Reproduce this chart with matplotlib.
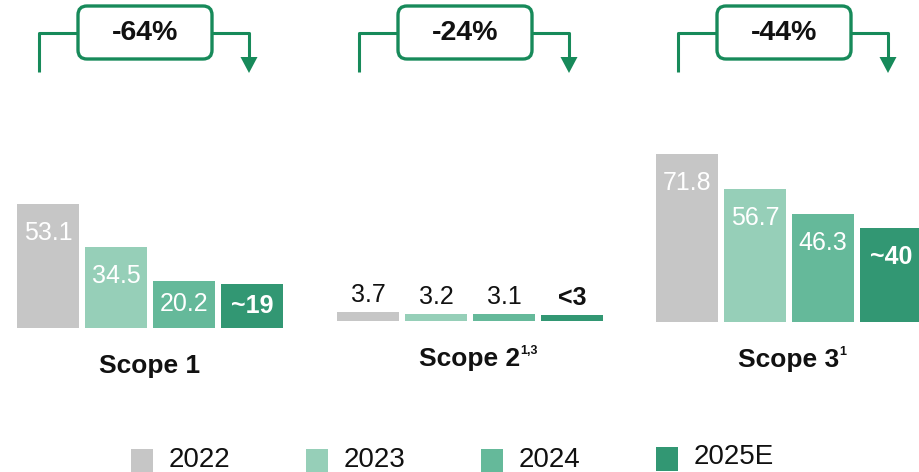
import matplotlib.pyplot as plt
from matplotlib.patches import FancyBboxPatch

plt.rcParams['font.family'] = ['Liberation Sans', 'DejaVu Sans']

years = ['2022', '2023', '2024', '2025E']
colores = ['#C6C6C6', '#96CFB8', '#65B99A', '#329773']
scopes = ['Scope 1', 'Scope 2', 'Scope 3']
supers = ['', '1,3', '1']
valores = [[53.1, 34.5, 20.2, 19.0],
           [3.7, 3.2, 3.1, 2.6],
           [71.8, 56.7, 46.3, 40.0]]
etiquetas = [['53.1', '34.5', '20.2', '~19'],
             ['3.7', '3.2', '3.1', '<3'],
             ['71.8', '56.7', '46.3', '~40']]
cambios = ['-64%', '-24%', '-44%']

verde = '#178A5A'
W, H = 920, 472
esc = 2.34                       # px por unidad
base_px = [328, 321, 322]        # linea base de cada grupo
inicio = [17, 337, 656]          # borde izquierdo de cada grupo
ancho, paso = 62, 68

fig = plt.figure(figsize=(W / 100, H / 100), dpi=100)
ax = fig.add_axes([0, 0, 1, 1])
ax.set_xlim(0, W)
ax.set_ylim(-(H - base_px[0]) / esc, base_px[0] / esc)
ax.axis('off')

ov = fig.add_axes([0, 0, 1, 1])
ov.set_xlim(0, W)
ov.set_ylim(H, 0)
ov.axis('off')
ov.patch.set_alpha(0)

for g in range(3):
  fondo = (base_px[0] - base_px[g]) / esc
  xs = [inicio[g] + ancho / 2 + i * paso for i in range(4)]
  ax.bar(xs, valores[g], width=ancho, bottom=fondo, color=colores, zorder=2)
  for i in range(4):
    v = valores[g][i]
    negrita = etiquetas[g][i].startswith('~') or etiquetas[g][i].startswith('<')
    if g == 1:
      ax.text(xs[i], fondo + v + 17 / esc, etiquetas[g][i], ha='center', va='center',
              fontsize=18, color='#111111', fontweight='bold' if negrita else 'normal')
    else:
      y = fondo + v - min(29 / esc, v / 2)
      ax.text(xs[i], y, etiquetas[g][i], ha='center', va='center', fontsize=18,
              color='white', fontweight='bold' if negrita else 'normal')

  centro = inicio[g] + (3 * paso + ancho) / 2
  t = ov.text(centro, base_px[g] + 38, scopes[g], ha='center', va='center',
              fontsize=19, fontweight='bold', color='#111111')
  if supers[g]:
    ov.annotate(supers[g], xy=(1, 1), xycoords=t, xytext=(-0.5, 1.5), textcoords='offset points',
                ha='left', va='top', fontsize=9, fontweight='bold', color='#111111')

  # flecha de reduccion
  cx = centro - 5
  xl, xr = centro - 111, centro + 99
  bl, br = cx - 67, cx + 67
  ov.plot([xl, xl, bl], [72, 33, 33], color=verde, lw=2.2, solid_capstyle='butt')
  ov.plot([br, xr, xr], [33, 33, 60], color=verde, lw=2.2, solid_capstyle='butt')
  ov.fill([xr - 8.5, xr + 8.5, xr], [57, 57, 73], color=verde, lw=0)
  caja = FancyBboxPatch((bl, 6), br - bl, 53, boxstyle='round,pad=0,rounding_size=9',
                        fc='white', ec=verde, lw=2.4, zorder=3)
  ov.add_patch(caja)
  ov.text(cx, 33, cambios[g], ha='center', va='center', fontsize=20.5,
          fontweight='bold', color='#111111', zorder=4)

# leyenda
leg_x = [131, 306, 481, 656]
for i in range(4):
  dy = -2 if i == 3 else 0
  ov.add_patch(plt.Rectangle((leg_x[i], 449 + dy), 22, 24, color=colores[i], lw=0))
  ov.text(leg_x[i] + 38, 460 + dy * 1.5, years[i], ha='left', va='center',
          fontsize=20, color='#111111')

plt.savefig('out.png', dpi=100)
